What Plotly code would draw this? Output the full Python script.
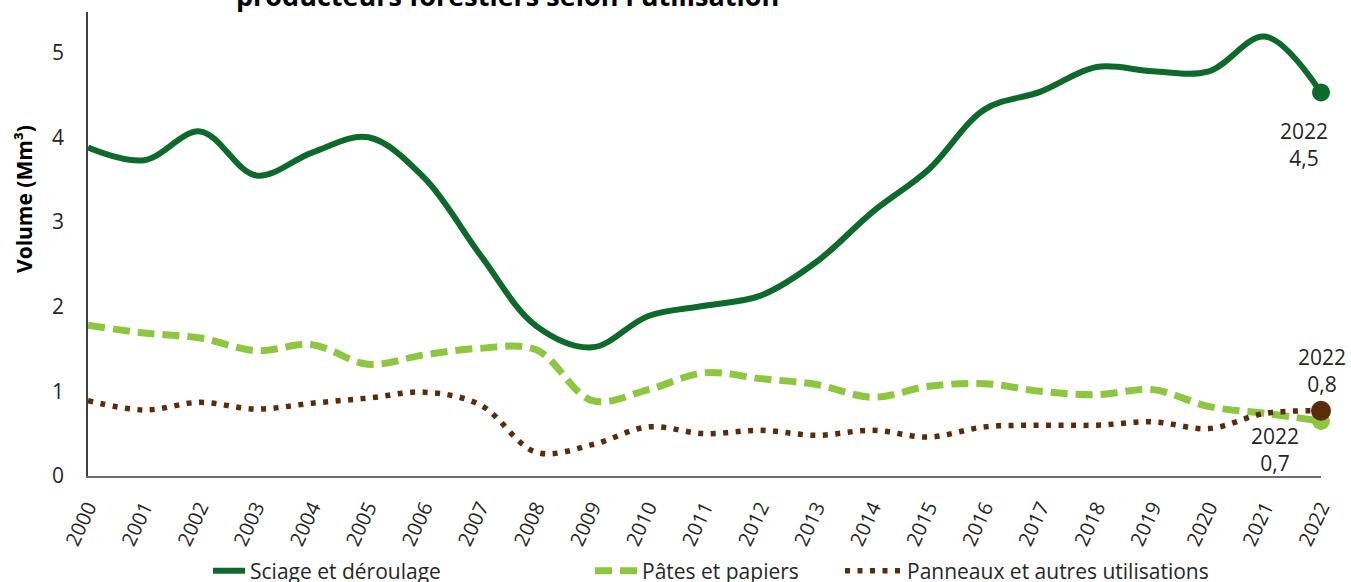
import plotly.graph_objects as go

years = list(range(2000, 2023))
sciage = [3.88, 3.73, 4.07, 3.55, 3.82, 4.00, 3.52, 2.61, 1.77, 1.52, 1.89, 2.01,
          2.13, 2.53, 3.12, 3.62, 4.33, 4.54, 4.83, 4.78, 4.78, 5.19, 4.53]
pates = [1.78, 1.69, 1.63, 1.48, 1.55, 1.32, 1.43, 1.51, 1.49, 0.89, 1.02, 1.22,
         1.15, 1.08, 0.93, 1.06, 1.09, 1.00, 0.96, 1.02, 0.82, 0.74, 0.65]
panneaux = [0.89, 0.78, 0.87, 0.79, 0.86, 0.92, 0.99, 0.84, 0.28, 0.37, 0.58, 0.50,
            0.54, 0.48, 0.54, 0.46, 0.58, 0.60, 0.60, 0.64, 0.56, 0.74, 0.77]
names = ["Sciage et déroulage", "Pâtes et papiers", "Panneaux et autres utilisations"]
end_labels = ["2022<br>4,5", "2022<br>0,7", "2022<br>0,8"]
title_text = "producteurs forestiers selon l'utilisation"
y_title = "Volume (Mm³)"

C_DARK = "#0d6a2b"
C_LIGHT = "#8dc63f"
C_BROWN = "#5a2c0b"
FONT = "Open Sans"
TXT = "#262626"

# plot area in page pixels: x 88..1321, y 12..476
PL, PR, PT, PB = 88, 1321, 12, 476
PW, PH = PR - PL, PB - PT


def px(xs):
    return (xs - PL) / PW


def py(ys):
    return (PB - ys) / PH


fig = go.Figure()

series = [
    (sciage, names[0], C_DARK, "solid", 6, "legend"),
    (pates, names[1], C_LIGHT, "17px,8px", 7, "legend2"),
    (panneaux, names[2], C_BROWN, "5px,7.5px", 5.5, "legend3"),
]

for vals, nm, col, dash, w, lg in series:
    fig.add_trace(go.Scatter(
        x=years, y=vals, name=nm, mode="lines",
        line=dict(color=col, width=w, dash=dash, shape="spline", smoothing=1),
        legend=lg, hoverinfo="skip"))

# end markers (pâtes before panneaux so the brown one sits on top)
for vals, col, size in [(sciage, C_DARK, 18), (pates, C_LIGHT, 18), (panneaux, C_BROWN, 20)]:
    fig.add_trace(go.Scatter(
        x=[years[-1]], y=[vals[-1]], mode="markers", showlegend=False,
        marker=dict(color=col, size=size), cliponaxis=False, hoverinfo="skip"))

# end labels
label_specs = [
    (sciage, end_labels[0], -17, 52),
    (pates, end_labels[1], -46, 29),
    (panneaux, end_labels[2], 1, -40),
]
for vals, txt, ax, ay in label_specs:
    fig.add_annotation(x=years[-1], y=vals[-1], xref="x", yref="y", text=txt,
                       showarrow=True, arrowcolor="rgba(0,0,0,0)", ax=ax, ay=ay,
                       font=dict(family=FONT, size=21, color=TXT),
                       align="center")

# chart title (partly above the visible area, as in the reference)
fig.add_annotation(text="<b>" + title_text + "</b>", xref="paper", yref="paper",
                   x=px(507), y=0.992, xanchor="center", yanchor="bottom",
                   showarrow=False, font=dict(family=FONT, size=27, color="#000000"))

# y axis title
fig.add_annotation(text="<b>" + y_title + "</b>", xref="paper", yref="paper",
                   x=px(24), y=py(199), xanchor="center", yanchor="middle",
                   textangle=-90, showarrow=False,
                   font=dict(family=FONT, size=21, color="#000000"))

legend_common = dict(orientation="h", yanchor="middle", y=py(571),
                     xanchor="left", font=dict(family=FONT, size=21, color=TXT),
                     bgcolor="rgba(0,0,0,0)", tracegroupgap=0)
fig.update_layout(
    width=1351, height=582,
    margin=dict(l=PL, r=1351 - PR, t=PT, b=582 - PB, autoexpand=False),
    paper_bgcolor="white", plot_bgcolor="white",
    font=dict(family=FONT, size=21, color=TXT),
    showlegend=True,
    legend=dict(x=px(208), itemwidth=32, **legend_common),
    legend2=dict(x=px(590), itemwidth=42, **legend_common),
    legend3=dict(x=px(840), itemwidth=57, **legend_common),
    xaxis=dict(range=[2000, 2022], tickmode="array", tickvals=years,
               ticktext=[str(y) for y in years], tickangle=-65,
               showgrid=False, zeroline=False, showline=True, automargin=False,
               linecolor="#6e6e6e", linewidth=2, ticks="",
               ticklabelstandoff=10,
               tickfont=dict(family=FONT, size=20, color=TXT)),
    yaxis=dict(range=[0, 5.48], tickvals=[0, 1, 2, 3, 4, 5], showgrid=False,
               zeroline=False, showline=True, linecolor="#404040", linewidth=1.5,
               ticks="", ticklabelstandoff=18, automargin=False,
               tickfont=dict(family=FONT, size=21, color=TXT)),
)

fig.write_html("out.html", config={"displayModeBar": False},
               post_script="document.body.style.margin='0';")
